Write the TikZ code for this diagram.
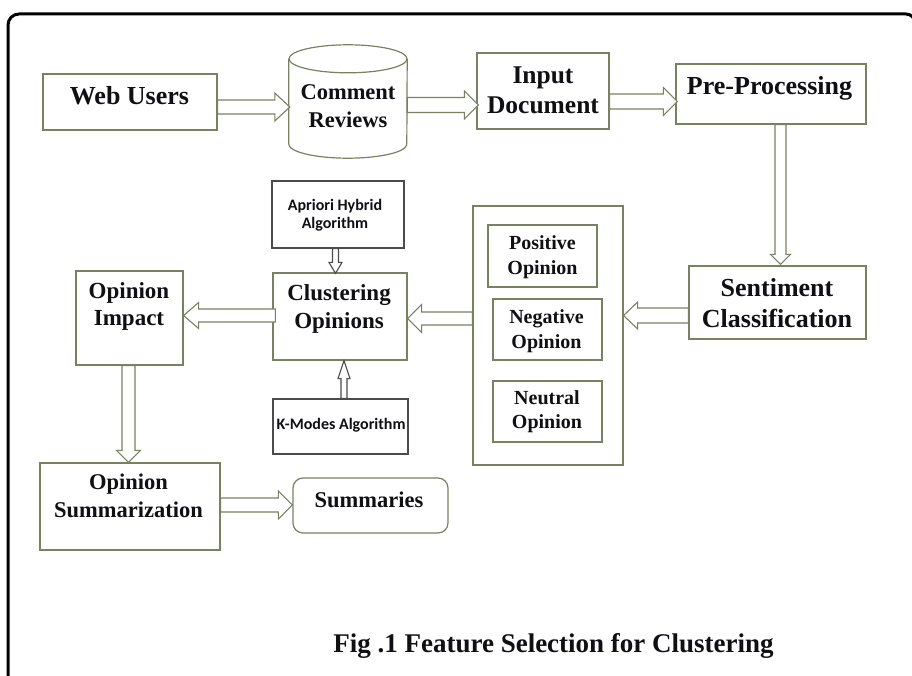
\documentclass[tikz,border=0pt]{standalone}
\usepackage{fontspec}
\setmainfont{Liberation Serif}
\newfontfamily\calib{Carlito}
\usetikzlibrary{calc}
\definecolor{olivebd}{RGB}{120,130,96}
\definecolor{graybd}{RGB}{75,75,75}
\definecolor{txtc}{RGB}{15,15,20}
\newcommand\blkarr[6][olivebd]{%
  \coordinate (ba-s) at (#2);
  \coordinate (ba-e) at (#3);
  \coordinate (ba-h) at ($(ba-e)!#6!(ba-s)$);
  \draw[arrowline,draw=#1] ($(ba-s)!#4!90:(ba-e)$) -- ($(ba-h)!#4!90:(ba-e)$) -- ($(ba-h)!#5!90:(ba-e)$) -- (ba-e)
    -- ($(ba-h)!#5!-90:(ba-e)$) -- ($(ba-h)!#4!-90:(ba-e)$) -- ($(ba-s)!#4!-90:(ba-e)$) -- cycle;
}
\begin{document}
\begin{tikzpicture}[x=1pt,y=-1pt,
  box/.style={draw=olivebd, line width=1.2pt, fill=white, inner sep=0pt},
  gbox/.style={draw=graybd, line width=1.2pt, fill=white, inner sep=0pt},
  txt/.style={text=txtc, align=center, inner sep=0pt, text depth=0pt},
  arrowline/.style={line width=1.1pt, fill=white, line join=miter}]
\useasboundingbox (0,0) rectangle (912,676);
\begin{scope}
  \clip (0,0) rectangle (912,676);
  \draw[line width=3pt, black] (8,700) -- (8,25) arc[start angle=180, end angle=90, radius=11pt]
    -- (906,14) arc[start angle=90, end angle=0, radius=9pt] -- (915,700);
\end{scope}

% boxes
\node[box, minimum width=174pt, minimum height=56pt] (web) at (130,102) {};
\node[inner sep=0pt, minimum width=118pt, minimum height=113pt] (cyl) at (348,101.5) {};
\draw[olivebd, line width=1.2pt, fill=white] ($(cyl.north west)+(0,14)$) -- ($(cyl.south west)+(0,-14)$)
  arc[start angle=180, end angle=360, x radius=59pt, y radius=14pt] -- ($(cyl.north east)+(0,14)$);
\draw[olivebd, line width=1.2pt, fill=white] ($(cyl.north)+(0,14)$) ellipse[x radius=59pt, y radius=14pt];
\node[box, minimum width=132pt, minimum height=76pt] (inp) at (543,91) {};
\node[box, minimum width=190pt, minimum height=60pt] (pre) at (771,94) {};
\node[box, minimum width=177pt, minimum height=73pt] (sent) at (777.5,302.5) {};
\node[box, minimum width=150pt, minimum height=259pt] (grp) at (548,335.5) {};
\node[box, minimum width=109pt, minimum height=62pt] (pos) at (542.5,256) {};
\node[box, minimum width=109pt, minimum height=61pt] (neg) at (547.5,329.5) {};
\node[box, minimum width=109pt, minimum height=61pt] (neu) at (547.5,411.5) {};
\node[box, minimum width=134pt, minimum height=87pt] (clu) at (340,316.5) {};
\node[gbox, minimum width=132pt, minimum height=67pt] (apr) at (338,214.5) {};
\node[gbox, minimum width=135pt, minimum height=55pt] (kmo) at (340.5,426.5) {};
\node[box, minimum width=107pt, minimum height=94pt] (imp) at (129.5,318) {};
\node[box, minimum width=180pt, minimum height=87pt] (osu) at (130,506.5) {};
\node[box, rounded corners=10pt, minimum width=155pt, minimum height=55pt] (sum) at (370.5,505.5) {};

% texts
\node[txt, font=\bfseries\fontsize{26}{30}\selectfont] (webT) at (129.5,95) {Web Users};
\node[txt, font=\bfseries\fontsize{22.5}{28}\selectfont] (cylT) at (348,106) {Comment\\Reviews};
\node[txt, font=\bfseries\fontsize{25.5}{30}\selectfont] (inpT) at (543,90) {Input\\Document};
\node[txt, font=\bfseries\fontsize{26}{30}\selectfont] (preT) at (769.5,85) {Pre-Processing};
\node[txt, font=\bfseries\fontsize{26}{31}\selectfont] (sentT) at (777,302.5) {Sentiment\\Classification};
\node[txt, font=\bfseries\fontsize{20}{25}\selectfont] (posT) at (542.5,255.5) {Positive\\Opinion};
\node[txt, font=\bfseries\fontsize{20}{25}\selectfont] (negT) at (546.5,329.5) {Negative\\Opinion};
\node[txt, font=\bfseries\fontsize{20}{24}\selectfont] (neuT) at (547,410) {Neutral\\Opinion};
\node[txt, font=\bfseries\fontsize{23}{28}\selectfont] (cluT) at (339,307) {Clustering\\Opinions};
\node[txt, font=\calib\bfseries\fontsize{16}{18}\selectfont] (aprT) at (335,214) {Apriori Hybrid\\Algorithm};
\node[txt, font=\calib\bfseries\fontsize{16}{18}\selectfont] (kmoT) at (341,424) {K-Modes Algorithm};
\node[txt, font=\bfseries\fontsize{23}{27}\selectfont] (impT) at (129,304.5) {Opinion\\Impact};
\node[txt, font=\bfseries\fontsize{22.5}{28}\selectfont] (osuT) at (128.5,496) {Opinion\\Summarization};
\node[txt, font=\bfseries\fontsize{22.5}{28}\selectfont] (sumT) at (369,500) {Summaries};
\node[txt, font=\bfseries\fontsize{27}{32}\selectfont] (cap) at (553.5,643) {Fig .1 Feature Selection for Clustering};

% block arrows
\blkarr{$(web.east)+(0,5)$}{$(cyl.west)+(1,5.5)$}{7pt}{14pt}{15pt}
\blkarr{$(cyl.east)+(0,3.5)$}{$(inp.west)+(2,14)$}{7.5pt}{14pt}{14pt}
\blkarr{$(inp.east)+(0,10.5)$}{$(pre.west)+(2,7.5)$}{7.5pt}{14pt}{14pt}
\blkarr{$(pre.south)+(9.5,0)$}{$(sent.north)+(3,-1)$}{5.5pt}{10pt}{10pt}
\blkarr{$(sent.west)+(0,13)$}{$(grp.east)+(0,-20)$}{7.5pt}{13.5pt}{14pt}
\blkarr{$(grp.west)+(0,-17)$}{$(clu.east)+(0,2)$}{6.5pt}{14pt}{14pt}
\blkarr{$(clu.west)+(3,-1)$}{$(imp.east)+(0,-2.5)$}{6.5pt}{13pt}{15pt}
\blkarr{$(imp.south)+(-1,0)$}{$(osu.north)+(-1.5,0)$}{6.5pt}{12pt}{12pt}
\blkarr{$(osu.east)+(0,-1.5)$}{$(sum.west)+(0,-0.5)$}{7pt}{14pt}{14pt}
\blkarr[graybd]{$(apr.south)+(-2.5,0)$}{$(clu.north)+(-4.5,1)$}{3pt}{6.5pt}{11pt}
\blkarr[graybd]{$(kmo.north)+(3.5,0)$}{$(clu.south)+(4,0)$}{3pt}{6pt}{18pt}
\end{tikzpicture}
\end{document}
